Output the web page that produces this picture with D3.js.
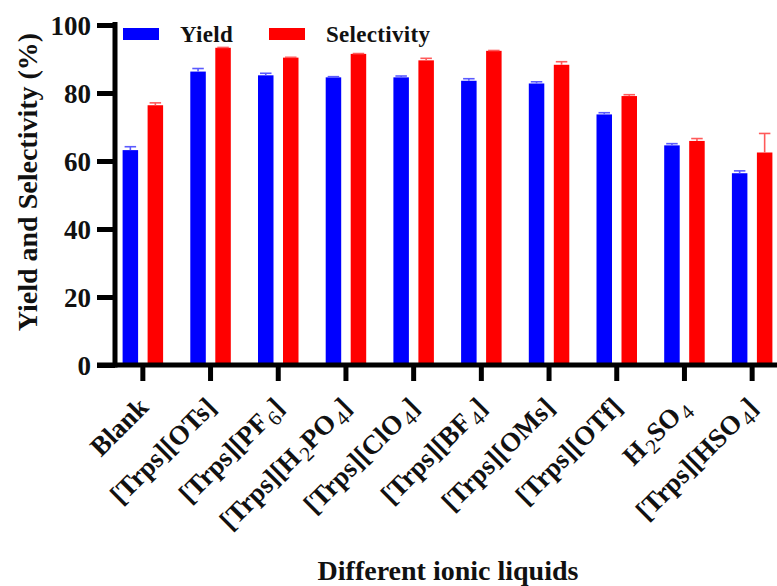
<!DOCTYPE html>
<html>
<head>
<meta charset="utf-8">
<script src="https://cdn.jsdelivr.net/npm/d3@7"></script>
<style>
  body { margin: 0; background: #fff; }
  svg text { font-family: "Liberation Serif", "Times New Roman", serif; font-weight: bold; fill: #111; }
</style>
</head>
<body>
<div class="container"></div>
<script>
// "_n" marks a subscript digit
const categories = ["Blank", "[Trps][OTs]", "[Trps][PF_6]", "[Trps][H_2PO_4]", "[Trps][ClO_4]",
  "[Trps][BF_4]", "[Trps][OMs]", "[Trps][OTf]", "H_2SO_4", "[Trps][HSO_4]"];
const seriesNames = ["Yield", "Selectivity"];
const yieldValues = [63.2, 86.3, 85.2, 84.6, 84.6, 83.6, 82.8, 73.7, 64.6, 56.4];
const yieldErrors = [1.0, 0.9, 0.6, 0.2, 0.4, 0.6, 0.5, 0.5, 0.5, 0.7];
const selectivityValues = [76.4, 93.3, 90.4, 91.5, 89.6, 92.4, 88.3, 79.1, 65.9, 62.5];
const selectivityErrors = [0.7, 0.1, 0.1, 0.1, 0.6, 0.1, 0.9, 0.4, 0.7, 5.6];
const yTicks = [0, 20, 40, 60, 80, 100];
const colors = ["#0000ff", "#ff0000"];
const errColors = ["#5a5aff", "#ff5a5a"];

const width = 777, height = 586;
const svg = d3.select(".container").append("svg")
  .attr("width", width).attr("height", height);

const x = d3.scaleBand().domain(categories).range([109, 786]);
const xs = d3.scaleBand().domain(seriesNames).range([-20.25, 20.25]).paddingInner(0.38);
const y = d3.scaleLinear().domain([0, 100]).range([365, 25]);

const rows = categories.map((c, i) => ({
  cat: c,
  vals: [
    { s: "Yield", v: yieldValues[i], e: yieldErrors[i], k: 0 },
    { s: "Selectivity", v: selectivityValues[i], e: selectivityErrors[i], k: 1 }
  ]
}));

// bars
const groups = svg.append("g").selectAll("g").data(rows).join("g")
  .attr("transform", d => `translate(${x(d.cat) + x.bandwidth() / 2},0)`);

groups.selectAll("rect").data(d => d.vals).join("rect")
  .attr("x", d => xs(d.s))
  .attr("y", d => y(d.v))
  .attr("width", xs.bandwidth())
  .attr("height", d => y(0) - y(d.v))
  .attr("fill", d => colors[d.k]);

// error bars (upper only)
const eb = groups.selectAll("g.err").data(d => d.vals).join("g").attr("class", "err")
  .attr("stroke", d => errColors[d.k]).attr("stroke-width", 1.6);
eb.append("line")
  .attr("x1", d => xs(d.s) + xs.bandwidth() / 2).attr("x2", d => xs(d.s) + xs.bandwidth() / 2)
  .attr("y1", d => y(d.v)).attr("y2", d => y(d.v + d.e));
eb.append("line")
  .attr("x1", d => xs(d.s) + 2).attr("x2", d => xs(d.s) + xs.bandwidth() - 2)
  .attr("y1", d => y(d.v + d.e)).attr("y2", d => y(d.v + d.e));

// y axis
const yAxis = svg.append("g").attr("transform", "translate(115,0)")
  .call(d3.axisLeft(y).tickValues(yTicks).tickSize(18).tickSizeOuter(0).tickPadding(6));
yAxis.select(".domain").remove();
yAxis.selectAll(".tick line").attr("stroke", "#000").attr("stroke-width", 5);
yAxis.selectAll(".tick text").attr("font-size", 27).attr("dy", "0.34em")
  .style("font-family", "'Liberation Serif', serif").style("font-weight", "bold").attr("fill", "#111");
yAxis.append("line").attr("x1", 0).attr("x2", 0)
  .attr("y1", y(100) - 3).attr("y2", y(0) + 2.5)
  .attr("stroke", "#000").attr("stroke-width", 5);

// x axis
const xAxis = svg.append("g").attr("transform", `translate(0,${y(0)})`)
  .call(d3.axisBottom(x).tickSize(16).tickSizeOuter(0).tickFormat(""));
xAxis.select(".domain").remove();
xAxis.selectAll(".tick line").attr("stroke", "#000").attr("stroke-width", 5);
xAxis.append("line").attr("x1", 97).attr("x2", width)
  .attr("stroke", "#000").attr("stroke-width", 5);

// rotated category labels with subscripts
const labels = svg.append("g").selectAll("text").data(categories).join("text")
  .attr("text-anchor", "end")
  .attr("font-size", 27)
  .attr("transform", d => `translate(${x(d) + x.bandwidth() / 2 + 7},${y(0) + 44}) rotate(-45)`);
labels.each(function (d) {
  const t = d3.select(this);
  let lastSub = false;
  d.split(/(_\d)/).filter(p => p).forEach(p => {
    if (p.startsWith("_")) {
      t.append("tspan").text(p.slice(1)).attr("font-size", 21)
        .style("font-weight", "normal").attr("dx", 2).attr("dy", 6);
      lastSub = true;
    } else {
      t.append("tspan").text(p).attr("dy", lastSub ? -6 : 0);
      lastSub = false;
    }
  });
});

// legend
const legend = svg.append("g");
seriesNames.forEach((s, i) => {
  const lx = [123, 269][i];
  legend.append("rect").attr("x", lx).attr("y", 28).attr("width", 36).attr("height", 12)
    .attr("fill", colors[i]);
  legend.append("text").attr("x", lx + 57).attr("y", 42).attr("font-size", 23)
    .attr("letter-spacing", 0.3).text(s);
});

// axis titles
svg.append("text").attr("text-anchor", "middle").attr("font-size", 28)
  .attr("transform", "translate(37,182) rotate(-90)")
  .text("Yield and Selectivity (%)");
svg.append("text").attr("text-anchor", "middle").attr("font-size", 28)
  .attr("x", 448).attr("y", 580)
  .text("Different ionic liquids");
</script>
</body>
</html>
